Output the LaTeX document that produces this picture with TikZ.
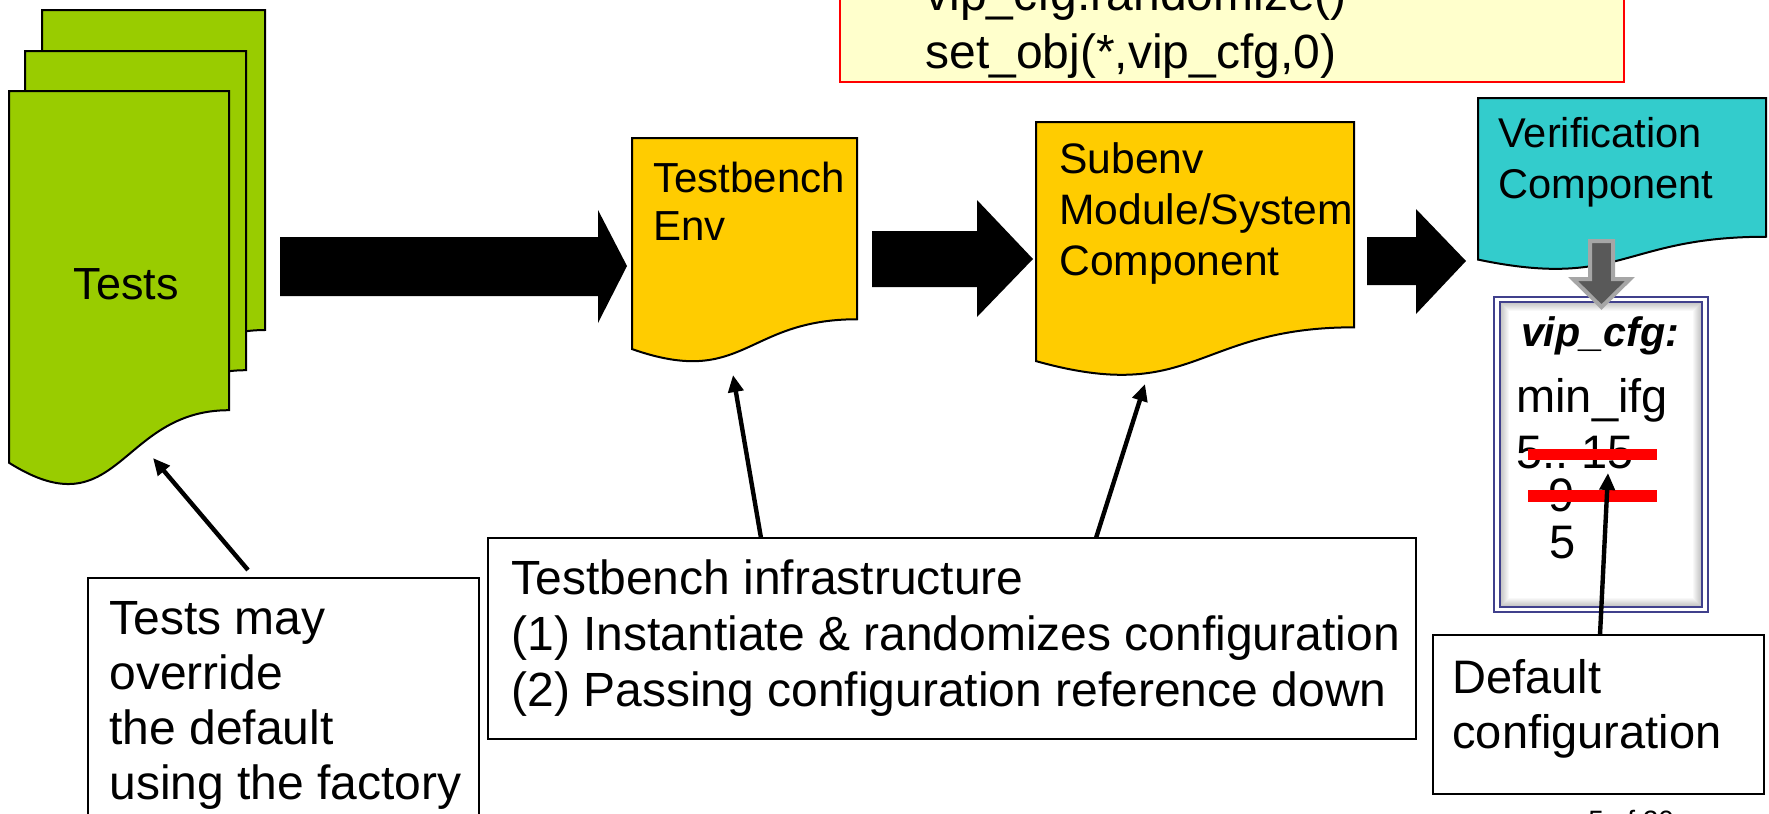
\documentclass[tikz,border=0pt]{standalone}
\usepackage{fontspec}
\setmainfont{Liberation Sans}
\usetikzlibrary{arrows.meta}

\definecolor{testgreen}{HTML}{99CC00}
\definecolor{envyellow}{HTML}{FFCC00}
\definecolor{vcteal}{HTML}{33CCCC}
\definecolor{codefill}{HTML}{FFFFCC}
\definecolor{cfgnavy}{RGB}{64,64,140}
\definecolor{pipefill}{HTML}{595959}
\definecolor{pipeedge}{HTML}{A6A6A6}

\newcommand\setfs[2]{\fontsize{#1}{#2}\selectfont}
% document sheet: style, left x, top y, width, height (wavy lower edge)
\newcommand\docsheet[5]{%
  \path[#1] (#2,#3) -- ({#2+#4},#3) -- ({#2+#4},{#3+0.802*#5})
    .. controls ({#2+0.5*#4},{#3+0.802*#5}) and ({#2+0.5*#4},{#3+1.108*#5})
    .. (#2,{#3+0.934*#5}) -- cycle;}

\tikzset{
  sheet/.style={draw=black, line width=1pt},
  blockarrow/.style={fill=black},
  callout/.style={-{Triangle[length=8.5pt,width=7.5pt]}, line width=2.2pt},
  notebox/.style={draw=black, line width=1pt, fill=white},
  lbl/.style={inner sep=0pt, anchor=base west},
  codebox/.style={draw=red, line width=1.3pt, fill=codefill},
}

\begin{document}
\begin{tikzpicture}[x=0.5pt,y=-0.5pt]
\useasboundingbox (0,0) rectangle (1769,814);
\clip (0,0) rectangle (1769,814);

% configuration code box
\draw[codebox] (840,-40) rectangle (1624,82);
\node[lbl] (code) at (925,10) {\setfs{24}{29}\begin{tabular}[t]{@{}l@{}}vip\_cfg.randomize()\\set\_obj(*,vip\_cfg,0)\end{tabular}};

% stack of tests
\docsheet{sheet, fill=testgreen}{42}{10}{223}{399}
\docsheet{sheet, fill=testgreen}{25}{51}{221}{398}
\docsheet{sheet, fill=testgreen}{9}{91}{220}{398}
\node[inner sep=0pt] (tests) at (126,284) {\setfs{22.5}{27}Tests};

% block arrows between the layers
\path[blockarrow] (280,237) -- (598,237) -- (598,210) -- (627,266) -- (598,323) -- (598,296) -- (280,296) -- cycle;
\path[blockarrow] (872,231) -- (977,231) -- (977,200) -- (1033,259) -- (977,317) -- (977,287) -- (872,287) -- cycle;
\path[blockarrow] (1367,237) -- (1416,237) -- (1416,209) -- (1466,261) -- (1416,314) -- (1416,285) -- (1367,285) -- cycle;

% testbench env
\docsheet{sheet, fill=envyellow}{632}{138}{225}{226}
\node[lbl] (env) at (653,192) {\setfs{21}{24}\begin{tabular}[t]{@{}l@{}}Testbench\\Env\end{tabular}};

% subenv
\docsheet{sheet, fill=envyellow}{1036}{122}{318}{256}
\node[lbl] (subenv) at (1059,173) {\setfs{21.3}{25.5}\begin{tabular}[t]{@{}l@{}}Subenv\\Module/System\\Component\end{tabular}};

% verification component
\docsheet{sheet, fill=vcteal}{1478}{98}{288}{173}
\node[lbl] (vc) at (1498,147) {\setfs{20.8}{25.5}\begin{tabular}[t]{@{}l@{}}Verification\\Component\end{tabular}};

% configuration object box with a soft inner shade
\fill[white] (1494,297) rectangle (1708,612);
\begin{scope}
  \clip (1500,302) rectangle (1702,607);
  \foreach \w in {1,...,9}
    \draw[black, opacity=0.028, line width=\w pt] (1500,302) rectangle (1702,607);
\end{scope}
\draw[cfgnavy, line width=1pt] (1494,297) rectangle (1708,612);
\draw[cfgnavy, line width=1pt] (1500,302) rectangle (1702,607);

% down arrow from the component into its configuration
\draw[fill=pipefill, draw=pipeedge, line width=2pt, line join=miter]
  (1590,241) -- (1613,241) -- (1613,279) -- (1630,279) -- (1601.5,307)
  -- (1573,279) -- (1590,279) -- cycle;

\node[inner sep=0pt, anchor=base] (cfgname) at (1600,346) {\setfs{20.6}{24}\bfseries\itshape vip\_cfg:};
\node[lbl] (minifg) at (1516,412) {\setfs{23.5}{28}min\_ifg};
\node[lbl] (range) at (1516,468) {\setfs{23.5}{28}5..\ 15};
\node[lbl] (nine) at (1548,511) {\setfs{23.5}{28}9};
\node[lbl] (five) at (1549,558) {\setfs{23.5}{28}5};
\fill[red] (1528,449) rectangle (1657,460);
\fill[red] (1528,490) rectangle (1657,502);

% note boxes
\draw[notebox] (88,578) rectangle (479,840);
\node[lbl] (override) at (109,634) {\setfs{24}{27.5}\begin{tabular}[t]{@{}l@{}}Tests may\\override\\the default\\using the factory\end{tabular}};

\draw[notebox] (488,538) rectangle (1416,739);
\node[lbl] (infra) at (511,594) {\setfs{24}{28}\begin{tabular}[t]{@{}l@{}}Testbench infrastructure\\(1) Instantiate \& randomizes configuration\\(2) Passing configuration reference down\end{tabular}};

\draw[notebox] (1433,635) rectangle (1764,794);
\node[lbl] (default) at (1452,693) {\setfs{23.5}{27.5}\begin{tabular}[t]{@{}l@{}}Default\\configuration\end{tabular}};

\node[lbl] (page) at (1588,830) {\setfs{14}{16}5 of 20};

% callout arrows
\coordinate (overridetop) at (248,570);
\coordinate (teststip) at (153,458);
\coordinate (infraenv) at (761,538);
\coordinate (envtip) at (733,375);
\coordinate (infrasub) at (1096,538);
\coordinate (subtip) at (1145,384);
\coordinate (defaulttop) at (1600,635);
\coordinate (cfgtip) at (1608,473);
\draw[callout] (overridetop) -- (teststip);
\draw[callout] (infraenv) -- (envtip);
\draw[callout] (infrasub) -- (subtip);
\draw[callout] (defaulttop) -- (cfgtip);
\end{tikzpicture}
\end{document}
